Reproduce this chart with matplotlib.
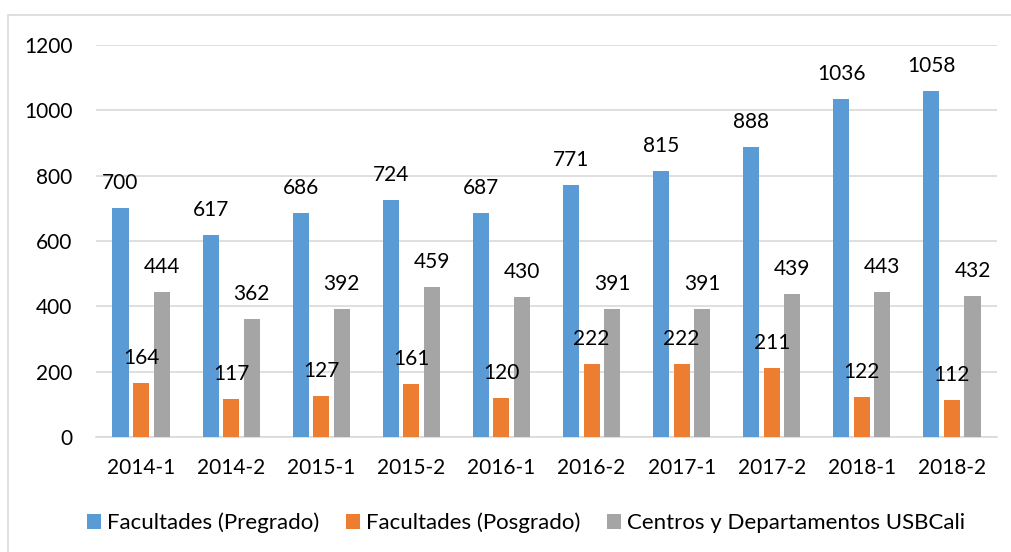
import matplotlib
matplotlib.use("Agg")
import matplotlib.pyplot as plt
import numpy as np
from matplotlib.patches import Rectangle

categories = ["2014-1", "2014-2", "2015-1", "2015-2", "2016-1",
              "2016-2", "2017-1", "2017-2", "2018-1", "2018-2"]
pregrado = [700, 617, 686, 724, 687, 771, 815, 888, 1036, 1058]
posgrado = [164, 117, 127, 161, 120, 222, 222, 211, 122, 112]
centros = [444, 362, 392, 459, 430, 391, 391, 439, 443, 432]
series_names = ["Facultades (Pregrado)", "Facultades (Posgrado)",
                "Centros y Departamentos USBCali"]
colors = ["#5B9BD5", "#ED7D31", "#A5A5A5"]

plt.rcParams['font.family'] = ['Lato', 'DejaVu Sans']
FS = 15
LFS = 16

W, H = 1011, 552
fig = plt.figure(figsize=(W/100, H/100), dpi=100)
ax = fig.add_axes([96/W, 1 - 437/H, (997-96)/W, (437-45)/H])

# border
fig.patches.append(Rectangle((8/W, -0.1), 1.2, 1 - 15/H + 0.1, transform=fig.transFigure,
                             fill=False, edgecolor="#D9D9D9", linewidth=1.2))

x = np.arange(len(categories))
bw = 0.178
off = 0.228
all_series = [pregrado, posgrado, centros]
for i, (vals, c, name) in enumerate(zip(all_series, colors, series_names)):
    pos = x + (i - 1) * off
    ax.bar(pos, vals, bw, color=c, label=name, zorder=3)
    for p, v in zip(pos, vals):
        ax.annotate(str(v), (p, v), xytext=(0, 18), textcoords="offset points",
                    ha="center", va="center", fontsize=FS, color="#000000", zorder=4)

ax.set_xlim(-0.5, len(categories) - 0.5)
ax.set_ylim(0, 1200)
ax.set_yticks(range(0, 1201, 200))
ax.set_xticks(x)
ax.set_xticklabels(categories)
ax.tick_params(axis='both', length=0, labelsize=FS, colors="#000000")
ax.tick_params(axis='x', pad=15)
ax.tick_params(axis='y', pad=17)
ax.yaxis.grid(True, color="#D9D9D9", linewidth=1.2, zorder=0)
for s in ["top", "right", "left"]:
    ax.spines[s].set_visible(False)
ax.spines["bottom"].set_color("#D9D9D9")
ax.spines["bottom"].set_linewidth(1.2)

fig.legend(loc="center left", bbox_to_anchor=(87/W, 1 - 523/H), ncol=3,
           frameon=False, fontsize=LFS, handlelength=0.63, handleheight=0.63,
           handletextpad=0.27, columnspacing=1.2, borderpad=0, borderaxespad=0)

fig.savefig("out.png", dpi=100)
